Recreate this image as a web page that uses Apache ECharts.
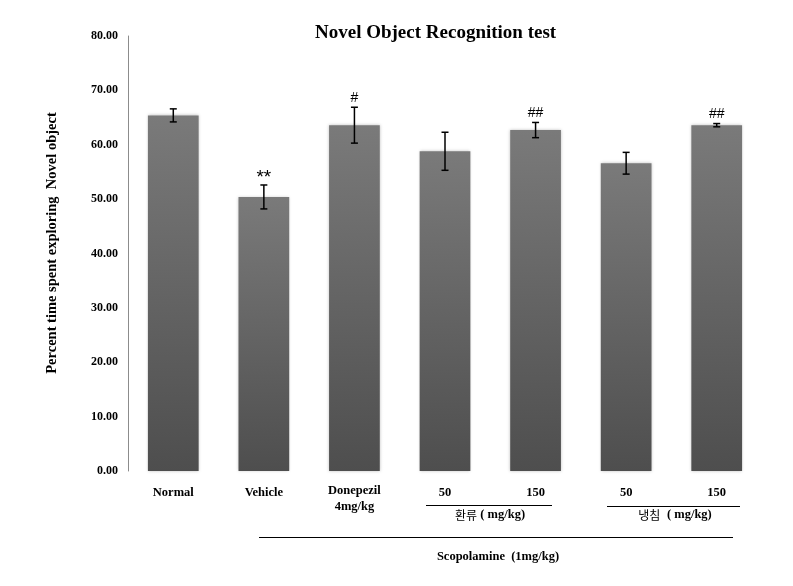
<!DOCTYPE html>
<html>
<head>
<meta charset="utf-8">
<script src="https://cdn.jsdelivr.net/npm/echarts@6/dist/echarts.min.js"></script>
<style>html,body{margin:0;padding:0;background:#fff;}#c{width:793px;height:586px;}</style>
</head>
<body>
<div id="c"></div>
<script>
const categories = ['Normal', 'Vehicle', 'Donepezil\n4mg/kg', '50', '150', '50', '150'];
const means = [65.4, 50.4, 63.6, 58.8, 62.7, 56.6, 63.6];
const sem = [1.2, 2.2, 3.3, 3.5, 1.4, 2.0, 0.3];
const marks = ['', '**', '#', '', '##', '', '##'];
const yTicks = [0, 10, 20, 30, 40, 50, 60, 70, 80];

const serif = '"Liberation Serif", "Times New Roman", serif';
const chart = echarts.init(document.getElementById('c'), null, {renderer: 'canvas'});

const errData = categories.map((c, i) => [i, means[i] - sem[i], means[i] + sem[i], marks[i]]);

chart.setOption({
  backgroundColor: '#fff',
  animation: false,
  title: {
    text: 'Novel Object Recognition test',
    left: 310, top: 19,
    textStyle: {fontFamily: serif, fontWeight: 'bold', fontSize: 19, color: '#000'}
  },
  grid: {left: 128, right: 31, top: 36, bottom: 115, containLabel: false},
  xAxis: {
    type: 'category',
    data: categories,
    axisLine: {show: false},
    axisTick: {show: false},
    axisLabel: {
      interval: 0,
      margin: 12,
      verticalAlign: 'top',
      fontFamily: serif, fontWeight: 'bold', fontSize: 12.5, color: '#000',
      lineHeight: 16,
      formatter: v => v.indexOf('\n') >= 0 ? v : '{p|' + v + '}',
      rich: {p: {fontFamily: serif, fontWeight: 'bold', fontSize: 12.5, color: '#000', padding: [3, 0, 0, 0], lineHeight: 16}}
    }
  },
  yAxis: {
    type: 'value',
    min: yTicks[0], max: yTicks[yTicks.length - 1], interval: 10,
    axisLine: {show: true, lineStyle: {color: '#8c8c8c', width: 1}},
    axisTick: {show: false},
    splitLine: {show: false},
    axisLabel: {
      margin: 10,
      fontFamily: serif, fontWeight: 'bold', fontSize: 12, color: '#000',
      formatter: v => v.toFixed(2)
    }
  },
  series: [
    {
      type: 'bar',
      data: means,
      barCategoryGap: '44%',
      itemStyle: {
        color: new echarts.graphic.LinearGradient(0, 0, 0, 1, [
          {offset: 0, color: '#7a7a7a'},
          {offset: 1, color: '#4e4e4e'}
        ]),
        shadowBlur: 3,
        shadowColor: 'rgba(0,0,0,0.25)'
      },
      z: 2
    },
    {
      type: 'custom',
      data: errData,
      z: 5,
      renderItem: function (params, api) {
        const idx = api.value(0);
        const lo = api.coord([idx, api.value(1)]);
        const hi = api.coord([idx, api.value(2)]);
        const x = lo[0];
        const cap = 3.5;
        const style = {stroke: '#000', lineWidth: 1.5};
        const children = [
          {type: 'line', shape: {x1: x, y1: lo[1], x2: x, y2: hi[1]}, style: style},
          {type: 'line', shape: {x1: x - cap, y1: lo[1], x2: x + cap, y2: lo[1]}, style: style},
          {type: 'line', shape: {x1: x - cap, y1: hi[1], x2: x + cap, y2: hi[1]}, style: style}
        ];
        const m = marks[params.dataIndex];
        if (m) {
          const star = m === '**';
          children.push({
            type: 'text',
            style: {
              text: m, x: x, y: hi[1] - (star ? -2 : 2),
              align: 'center', verticalAlign: 'bottom',
              font: (star ? '19px' : '14px') + ' "Liberation Sans", Arial, sans-serif',
              fill: '#000'
            }
          });
        }
        return {type: 'group', children: children};
      }
    }
  ],
  graphic: [
    {
      type: 'text', x: 52, y: 243, rotation: Math.PI / 2,
      style: {
        text: 'Percent time spent exploring  Novel object',
        align: 'center', verticalAlign: 'middle',
        font: 'bold 14.5px ' + serif, fill: '#000'
      }
    },
    {type: 'line', shape: {x1: 426, y1: 505.5, x2: 552, y2: 505.5}, style: {stroke: '#000', lineWidth: 1.2}},
    {type: 'line', shape: {x1: 607, y1: 506.5, x2: 740, y2: 506.5}, style: {stroke: '#000', lineWidth: 1.2}},
    {type: 'line', shape: {x1: 259, y1: 537.5, x2: 733, y2: 537.5}, style: {stroke: '#000', lineWidth: 1.2}},
    {
      type: 'text', x: 490, y: 515,
      style: {
        text: '{k|환류} {s|( mg/kg)}',
        align: 'center', verticalAlign: 'middle',
        rich: {
          k: {fontFamily: '"Noto Sans CJK KR", sans-serif', fontSize: 12, fill: '#000', color: '#000'},
          s: {fontFamily: serif, fontWeight: 'bold', fontSize: 12.5, fill: '#000', color: '#000'}
        }
      }
    },
    {
      type: 'text', x: 675, y: 515,
      style: {
        text: '{k|냉침}  {s|( mg/kg)}',
        align: 'center', verticalAlign: 'middle',
        rich: {
          k: {fontFamily: '"Noto Sans CJK KR", sans-serif', fontSize: 12, fill: '#000', color: '#000'},
          s: {fontFamily: serif, fontWeight: 'bold', fontSize: 12.5, fill: '#000', color: '#000'}
        }
      }
    },
    {
      type: 'text', x: 498, y: 557,
      style: {
        text: 'Scopolamine  (1mg/kg)',
        align: 'center', verticalAlign: 'middle',
        font: 'bold 12.5px ' + serif, fill: '#000'
      }
    }
  ]
});
</script>
</body>
</html>
